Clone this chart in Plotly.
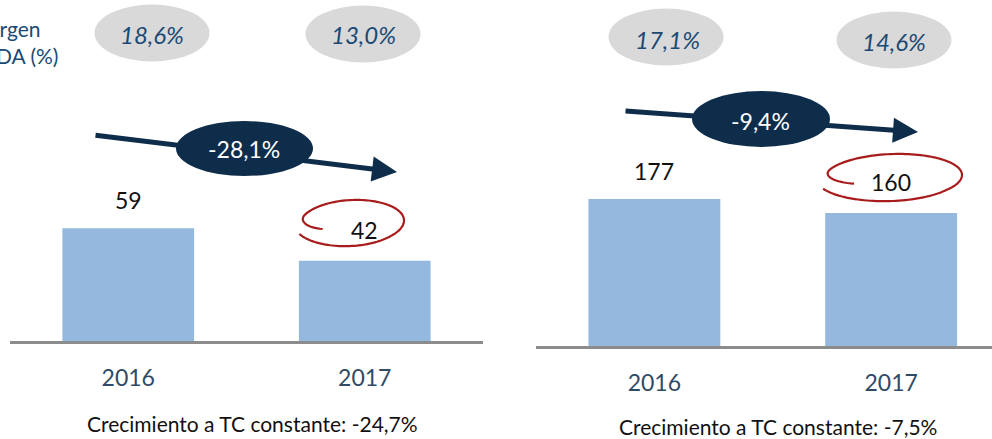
import numpy as np
import plotly.graph_objects as go

W, H = 992, 439

# ---------------- data ----------------
years = ["2016", "2017"]
ebitda_left = [59, 42]
ebitda_right = [177, 160]
margin_left = ["18,6%", "13,0%"]
margin_right = ["17,1%", "14,6%"]
growth_left = "-28,1%"
growth_right = "-9,4%"
const_left = "Crecimiento a TC constante: -24,7%"
const_right = "Crecimiento a TC constante: -7,5%"
margin_title = "Margen<br>EBITDA (%)"

# ---------------- styles ----------------
FONT = "Lato"
BAR = "#95B8DF"
NAVY = "#0E2D4B"
GREYE = "#D9D9D9"
PCT = "#1A4A74"
TICK = "#2F4A66"
RED = "#A81C1C"
AXIS = "#8C8C8C"


def px(x):
    return x / W


def py(y):
    return 1 - y / H


fig = go.Figure()
fig.add_trace(go.Bar(x=years, y=ebitda_left, xaxis="x", yaxis="y",
                     marker=dict(color=BAR, line=dict(width=0)), width=0.557,
                     hoverinfo="skip"))
fig.add_trace(go.Bar(x=years, y=ebitda_right, xaxis="x2", yaxis="y2",
                     marker=dict(color=BAR, line=dict(width=0)), width=0.557,
                     hoverinfo="skip"))

xcommon = dict(type="category", showline=True, linecolor=AXIS, linewidth=3,
               showgrid=False, zeroline=False, ticks="", ticklabelstandoff=14,
               tickfont=dict(family=FONT, size=23, color=TICK), fixedrange=True)
ycommon = dict(showgrid=False, zeroline=False, showticklabels=False,
               showline=False, fixedrange=True)

fig.update_layout(
    width=W, height=H, margin=dict(l=0, r=0, t=0, b=0),
    paper_bgcolor="white", plot_bgcolor="rgba(0,0,0,0)", showlegend=False,
    xaxis=dict(domain=[px(10), px(483)], range=[-0.5, 1.5], anchor="y", **xcommon),
    yaxis=dict(domain=[py(341), 1], range=[0, 341 / 1.91], anchor="x", **ycommon),
    xaxis2=dict(domain=[px(536), 1], range=[-0.5, 1.426], anchor="y2", **xcommon),
    yaxis2=dict(domain=[py(346), 1], range=[0, 346 / 0.8305], anchor="x2", **ycommon),
)

shapes = []
ann = []

# value labels above bars
for xa, ya, vals in (("x", "y", ebitda_left), ("x2", "y2", ebitda_right)):
    for i, v in enumerate(vals):
        ann.append(dict(x=i, y=v, xref=xa, yref=ya, text=str(v), showarrow=False,
                        xanchor="center", yanchor="middle", yshift=28 if i == 0 else 31,
                        font=dict(family=FONT, size=23, color="#111111")))

# grey ellipses with margins
for (cx, cy, tx, ty), txt in zip([(152, 33, 152, 34), (363, 34, 363, 34),
                                  (666, 37, 667, 39), (894, 40, 894, 41)],
                                 margin_left + margin_right):
    shapes.append(dict(type="circle", xref="paper", yref="paper",
                       x0=px(cx - 57.5), x1=px(cx + 57.5), y0=py(cy - 28.5), y1=py(cy + 28.5),
                       fillcolor=GREYE, line=dict(width=0), layer="above"))
    ann.append(dict(x=px(tx), y=py(ty), xref="paper", yref="paper", text="<i>%s</i>" % txt,
                    showarrow=False, xanchor="center", yanchor="middle",
                    font=dict(family=FONT, size=24, color=PCT)))

# arrows (tail -> tip)
for (x0, y0, x1, y1) in [(94, 135, 397, 172), (624, 111, 918, 132)]:
    ann.append(dict(x=px(x1), y=py(y1), xref="paper", yref="paper", axref="pixel", ayref="pixel",
                    ax=x0 - x1, ay=y0 - y1, text="", showarrow=True, arrowhead=2,
                    arrowsize=1.0, arrowwidth=5, arrowcolor=NAVY, standoff=0))

# navy ellipses with growth
for (cx, cy, w, h, tx, ty), txt in zip([(244.5, 148.5, 137, 55, 244, 149),
                                        (761, 119, 138, 56, 760, 121)],
                                       [growth_left, growth_right]):
    shapes.append(dict(type="circle", xref="paper", yref="paper",
                       x0=px(cx - w / 2), x1=px(cx + w / 2), y0=py(cy - h / 2), y1=py(cy + h / 2),
                       fillcolor=NAVY, line=dict(width=0), layer="above"))
    ann.append(dict(x=px(tx), y=py(ty), xref="paper", yref="paper", text=txt,
                    showarrow=False, xanchor="center", yanchor="middle",
                    font=dict(family=FONT, size=23, color="white")))


# red hand-drawn loops around the 2017 values
def scribble(cx, cy, rx, ry):
    pts = []
    for t in np.linspace(160, 517, 140):
        k = min(1.0, (t - 160) / 45)
        r = 0.6 + 0.4 * (1 - (1 - k) ** 2)
        if t > 400:
            r *= 1 + 0.1 * (t - 400) / 117
        a = np.radians(t)
        pts.append((cx + rx * r * np.cos(a), cy + ry * r * np.sin(a) - 2 * np.cos(a)))
    return "M " + " L ".join("%.5f,%.5f" % (px(x), py(y)) for x, y in pts)


for (cx, cy, rx, ry) in [(352, 222.5, 52, 22.5), (893, 177, 69, 23)]:
    shapes.append(dict(type="path", xref="paper", yref="paper", path=scribble(cx, cy, rx, ry),
                       line=dict(color=RED, width=2.2), layer="above"))

# left title (partially cut off, as in the source)
ann.append(dict(x=px(5), y=py(42), xref="paper", yref="paper", text=margin_title,
                showarrow=False, xanchor="center", yanchor="middle", align="center",
                font=dict(family=FONT, size=21, color=PCT)))

# bottom notes
ann.append(dict(x=px(252), y=py(423), xref="paper", yref="paper", text=const_left,
                showarrow=False, xanchor="center", yanchor="middle",
                font=dict(family=FONT, size=21, color="#111111")))
ann.append(dict(x=px(778), y=py(426), xref="paper", yref="paper", text=const_right,
                showarrow=False, xanchor="center", yanchor="middle",
                font=dict(family=FONT, size=21, color="#111111")))

fig.update_layout(shapes=shapes, annotations=ann)
fig.write_html("out.html", config={"displayModeBar": False},
               post_script="document.body.style.margin='0';document.body.style.overflow='hidden';")
